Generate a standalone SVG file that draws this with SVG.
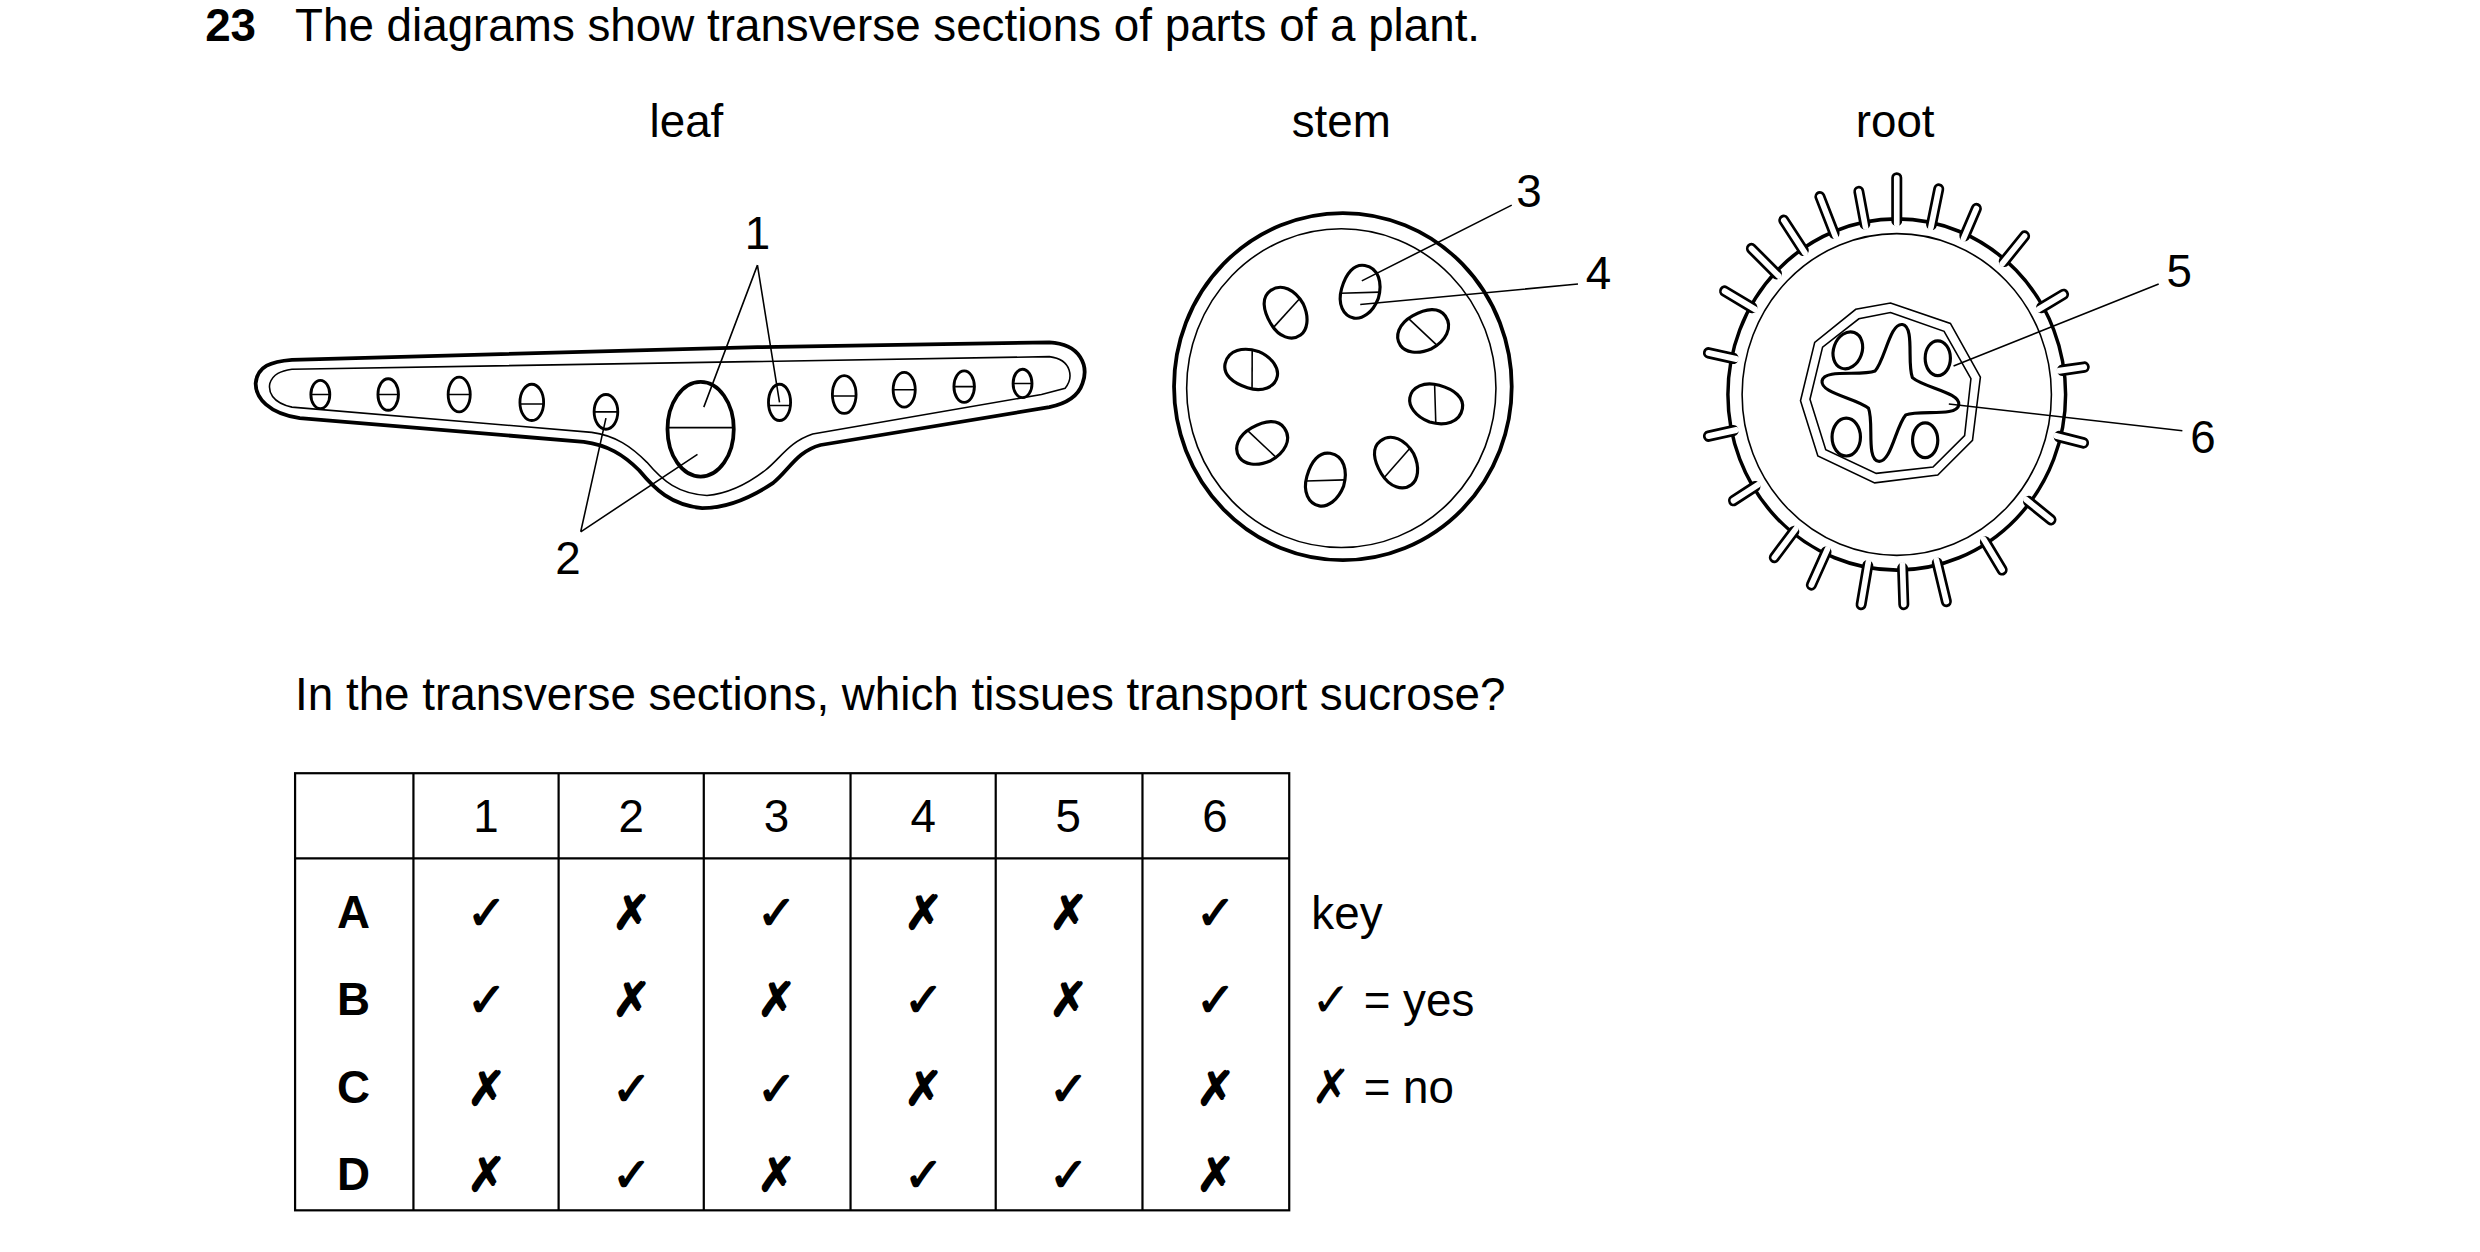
<svg xmlns="http://www.w3.org/2000/svg" width="2480" height="1252" viewBox="0 0 2480 1252">
<style>
text{font-family:"Liberation Sans",Arial,sans-serif;fill:#000}
.t{font-size:29px}
.b{font-weight:bold}
.k{stroke:#000;fill:none;stroke-width:2.4;stroke-linejoin:round}
.n{stroke:#000;fill:none;stroke-width:1}
.m{font-family:"DejaVu Sans",sans-serif;font-size:30px;font-weight:bold}
</style>
<rect width="2480" height="1252" fill="#fff"/>
<g transform="scale(1.578)">
<g id="title">
<text x="130" y="26" class="t b">23</text>
<text x="187" y="26" class="t">The diagrams show transverse sections of parts of a plant.</text>
<text x="435" y="87" class="t" text-anchor="middle">leaf</text>
<text x="850" y="87" class="t" text-anchor="middle">stem</text>
<text x="1201" y="87" class="t" text-anchor="middle">root</text>
</g>
<g id="leaf">
<path class="k" d="M185,228 L480,220 L665,217 C685,218 690,232 686,243 C683,252 675,256 665,258 L520,282 C505,286 500,298 490,306 C475,316 460,322 445,322 C425,320 415,310 405,298 C395,288 385,282 370,280 L190,265 C170,262 162,252 162,243 C163,232 172,229 185,228 Z"/>
<path class="n" d="M185,234 L665,226 C680,228 680,240 675,246 L660,250 L515,275 C500,280 495,290 485,298 C472,308 460,313 448,314 C430,313 420,305 410,293 C400,283 390,276 375,274 L185,258 C172,255 170,248 171,243 C173,237 178,235 185,234 Z"/>
<g class="k" style="stroke-width:1.8">
<ellipse cx="203" cy="250" rx="6" ry="9"/><ellipse cx="246" cy="250" rx="6.5" ry="10"/><ellipse cx="291" cy="250" rx="7" ry="11"/><ellipse cx="337" cy="255" rx="7.5" ry="11.5"/><ellipse cx="384" cy="261" rx="7.5" ry="11"/>
<ellipse cx="494" cy="255" rx="7" ry="11.5"/><ellipse cx="535" cy="250" rx="7.5" ry="12"/><ellipse cx="573" cy="247" rx="7" ry="11"/><ellipse cx="611" cy="245" rx="6.5" ry="10"/><ellipse cx="648" cy="243" rx="6" ry="9"/>
<ellipse cx="444" cy="272" rx="21" ry="30" style="stroke-width:2.4"/>
</g>
<g class="n">
<path d="M197,250h12M240,250h13M284,250h14M330,256h15M377,261h15M487,257h14M528,251h15M566,247h14M605,245h13M642,243h12M423,271h42"/>
</g>
</g>
<g id="stem">
<ellipse class="k" cx="851" cy="245" rx="107" ry="110"/>
<ellipse class="n" cx="850" cy="246" rx="98" ry="101"/>
<g class="k" style="stroke-width:2">
<g transform="translate(862,185) rotate(10)"><path d="M0,-17 C9,-17 13,-8 12,2 C10,12 4,17 -1,17 C-8,17 -13,10 -12,0 C-11,-10 -7,-17 0,-17Z"/><line class="n" x1="-12" y1="3" x2="12" y2="-2"/></g>
<g transform="translate(815,198) rotate(-36)"><path d="M0,-17 C9,-17 13,-8 12,2 C10,12 4,17 -1,17 C-8,17 -13,10 -12,0 C-11,-10 -7,-17 0,-17Z"/><line class="n" x1="-12" y1="3" x2="12" y2="-2"/></g>
<g transform="translate(902,210) rotate(55)"><path d="M0,-17 C9,-17 13,-8 12,2 C10,12 4,17 -1,17 C-8,17 -13,10 -12,0 C-11,-10 -7,-17 0,-17Z"/><line class="n" x1="-12" y1="3" x2="12" y2="-2"/></g>
<g transform="translate(793,234) rotate(-78)"><path d="M0,-17 C9,-17 13,-8 12,2 C10,12 4,17 -1,17 C-8,17 -13,10 -12,0 C-11,-10 -7,-17 0,-17Z"/><line class="n" x1="-12" y1="3" x2="12" y2="-2"/></g>
<g transform="translate(910,256) rotate(100)"><path d="M0,-17 C9,-17 13,-8 12,2 C10,12 4,17 -1,17 C-8,17 -13,10 -12,0 C-11,-10 -7,-17 0,-17Z"/><line class="n" x1="-12" y1="3" x2="12" y2="-2"/></g>
<g transform="translate(800,281) rotate(55)"><path d="M0,-17 C9,-17 13,-8 12,2 C10,12 4,17 -1,17 C-8,17 -13,10 -12,0 C-11,-10 -7,-17 0,-17Z"/><line class="n" x1="-12" y1="3" x2="12" y2="-2"/></g>
<g transform="translate(885,293) rotate(-37)"><path d="M0,-17 C9,-17 13,-8 12,2 C10,12 4,17 -1,17 C-8,17 -13,10 -12,0 C-11,-10 -7,-17 0,-17Z"/><line class="n" x1="-12" y1="3" x2="12" y2="-2"/></g>
<g transform="translate(840,304) rotate(10)"><path d="M0,-17 C9,-17 13,-8 12,2 C10,12 4,17 -1,17 C-8,17 -13,10 -12,0 C-11,-10 -7,-17 0,-17Z"/><line class="n" x1="-12" y1="3" x2="12" y2="-2"/></g>
</g>
</g>
<g id="root">
<g transform="translate(1202,250) scale(1,1.04)">
<circle r="107" class="k" style="stroke-width:2.2"/>
<g stroke="#000" stroke-width="7" stroke-linecap="round">
<line x1="106" x2="128" transform="rotate(-124)"/><line x1="106" x2="130" transform="rotate(-112)"/><line x1="106" x2="126" transform="rotate(-101)"/><line x1="106" x2="132" transform="rotate(-90)"/><line x1="106" x2="128" transform="rotate(-78)"/><line x1="106" x2="124" transform="rotate(-66)"/><line x1="106" x2="126" transform="rotate(-50)"/><line x1="106" x2="122" transform="rotate(-30)"/><line x1="106" x2="120" transform="rotate(-8)"/><line x1="106" x2="122" transform="rotate(14)"/><line x1="106" x2="124" transform="rotate(38)"/><line x1="106" x2="126" transform="rotate(58)"/><line x1="106" x2="130" transform="rotate(76)"/><line x1="106" x2="128" transform="rotate(88)"/><line x1="106" x2="130" transform="rotate(100)"/><line x1="106" x2="128" transform="rotate(115)"/><line x1="106" x2="126" transform="rotate(128)"/><line x1="106" x2="122" transform="rotate(148)"/><line x1="106" x2="122" transform="rotate(168)"/><line x1="106" x2="122" transform="rotate(192)"/><line x1="106" x2="126" transform="rotate(210)"/><line x1="106" x2="128" transform="rotate(224)"/>
</g>
<g stroke="#fff" stroke-width="3.6" stroke-linecap="round">
<line x1="104" x2="128" transform="rotate(-124)"/><line x1="104" x2="130" transform="rotate(-112)"/><line x1="104" x2="126" transform="rotate(-101)"/><line x1="104" x2="132" transform="rotate(-90)"/><line x1="104" x2="128" transform="rotate(-78)"/><line x1="104" x2="124" transform="rotate(-66)"/><line x1="104" x2="126" transform="rotate(-50)"/><line x1="104" x2="122" transform="rotate(-30)"/><line x1="104" x2="120" transform="rotate(-8)"/><line x1="104" x2="122" transform="rotate(14)"/><line x1="104" x2="124" transform="rotate(38)"/><line x1="104" x2="126" transform="rotate(58)"/><line x1="104" x2="130" transform="rotate(76)"/><line x1="104" x2="128" transform="rotate(88)"/><line x1="104" x2="130" transform="rotate(100)"/><line x1="104" x2="128" transform="rotate(115)"/><line x1="104" x2="126" transform="rotate(128)"/><line x1="104" x2="122" transform="rotate(148)"/><line x1="104" x2="122" transform="rotate(168)"/><line x1="104" x2="122" transform="rotate(192)"/><line x1="104" x2="126" transform="rotate(210)"/><line x1="104" x2="128" transform="rotate(224)"/>
</g>
<circle r="98" class="n"/>
</g>
<g transform="translate(1198,249)">
<polygon class="n" points="0,-57 38,-44 57,-10 52,30 30,52 -10,57 -46,40 -57,5 -48,-32 -22,-53"/>
<polygon class="n" points="0,-51 34,-39 51,-9 47,27 27,47 -9,51 -41,36 -51,4 -43,-29 -20,-47"/>
<path class="k" style="stroke-width:2" transform="rotate(10)" d="M0,-44 C8,-44 7,-20 12,-12 C20,-7 44,-8 44,0 C44,8 20,7 12,12 C7,20 8,44 0,44 C-8,44 -7,20 -12,12 C-20,7 -44,8 -44,0 C-44,-8 -20,-7 -12,-12 C-7,-20 -8,-44 0,-44 Z"/>
<g class="k" style="stroke-width:2">
<ellipse cx="-27" cy="-27" rx="9" ry="12" transform="rotate(20 -27 -27)"/><ellipse cx="30" cy="-22" rx="8" ry="11"/><ellipse cx="-28" cy="28" rx="9" ry="12"/><ellipse cx="22" cy="30" rx="8" ry="11"/>
</g>
</g>
</g>
<g id="connectors" class="n">
<path d="M480,168 L446,258 M480,168 L494,255 M368,337 L384,265 M368,337 L442,288 M958,130 L863,178 M1000,180 L862,193 M1368,180 L1238,232 M1383,273 L1235,256"/>
</g>
<g id="labels" class="t">
<text x="480" y="158" text-anchor="middle">1</text>
<text x="360" y="364" text-anchor="middle">2</text>
<text x="969" y="131" text-anchor="middle">3</text>
<text x="1013" y="183" text-anchor="middle">4</text>
<text x="1381" y="182" text-anchor="middle">5</text>
<text x="1396" y="287" text-anchor="middle">6</text>
</g>
<text x="187" y="450" class="t">In the transverse sections, which tissues transport sucrose?</text>
<g id="table">
<rect x="187" y="490" width="630" height="277" class="n" style="stroke-width:1.4"/>
<path class="n" style="stroke-width:1.4" d="M187,544H817M262,490V767M354,490V767M446,490V767M539,490V767M631,490V767M724,490V767"/>
<g class="t" text-anchor="middle">
<text x="308" y="527">1</text><text x="400" y="527">2</text><text x="492" y="527">3</text><text x="585" y="527">4</text><text x="677" y="527">5</text><text x="770" y="527">6</text>
<text x="224" y="588" class="b">A</text><text x="224" y="643" class="b">B</text><text x="224" y="699" class="b">C</text><text x="224" y="754" class="b">D</text>
</g>
<g class="m" text-anchor="middle">
<text x="308" y="589">✓</text><text x="400" y="589">✗</text><text x="492" y="589">✓</text><text x="585" y="589">✗</text><text x="677" y="589">✗</text><text x="770" y="589">✓</text>
<text x="308" y="644">✓</text><text x="400" y="644">✗</text><text x="492" y="644">✗</text><text x="585" y="644">✓</text><text x="677" y="644">✗</text><text x="770" y="644">✓</text>
<text x="308" y="700">✗</text><text x="400" y="700">✓</text><text x="492" y="700">✓</text><text x="585" y="700">✗</text><text x="677" y="700">✓</text><text x="770" y="700">✗</text>
<text x="308" y="755">✗</text><text x="400" y="755">✓</text><text x="492" y="755">✗</text><text x="585" y="755">✓</text><text x="677" y="755">✓</text><text x="770" y="755">✗</text>
</g>
</g>
<g id="key">
<text x="831" y="589" class="t">key</text>
<text x="831" y="644" class="t"><tspan class="m">✓</tspan> = yes</text>
<text x="831" y="699" class="t"><tspan class="m">✗</tspan> = no</text>
</g>
</g>
</svg>
